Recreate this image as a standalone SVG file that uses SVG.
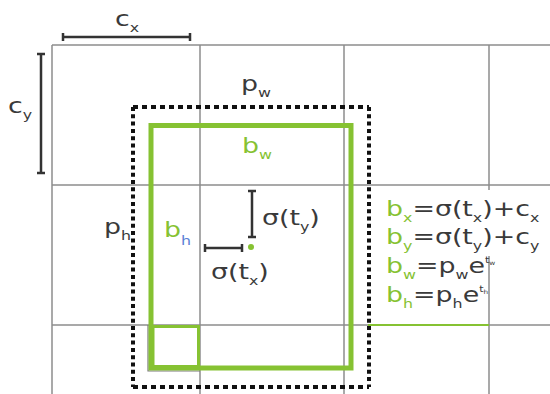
<svg xmlns="http://www.w3.org/2000/svg" width="550" height="394" viewBox="0 0 550 394">
  <style>
    .grid { stroke: #8c8c8c; stroke-width: 1.5; fill: none; }
    .dim { stroke: #333; stroke-width: 2.5; fill: none; }
    .prior { stroke: #111; stroke-width: 4; fill: none; }
    .ph { stroke-dasharray: 5 4; }
    .pv { stroke-dasharray: 4 3.3; }
    .pred { stroke: #86c232; stroke-width: 5; fill: none; }
    text { font-family: "DejaVu Sans", "Liberation Sans", sans-serif; font-size: 22px; fill: #3a3a3a; }
    .g { fill: #86c232; }
    .b { fill: #5a7fd6; }
    .sub { font-size: 13px; }
    .sup { font-size: 9px; }
    .sup2 { font-size: 6px; }
  </style>

  <rect width="550" height="394" fill="#fff"/>

  <!-- cell grid -->
  <g id="grid" class="grid">
    <line x1="52" y1="45" x2="550" y2="45"/>
    <line x1="52" y1="185" x2="550" y2="185"/>
    <line x1="52" y1="325" x2="550" y2="325"/>
    <line x1="52" y1="45" x2="52" y2="394"/>
    <line x1="200" y1="45" x2="200" y2="394"/>
    <line x1="344" y1="45" x2="344" y2="394"/>
    <line x1="489" y1="45" x2="489" y2="394"/>
  </g>

  <!-- cell size dimensions -->
  <g id="cell-width">
    <path class="dim" d="M63 37H190M63 33V41M190 33V41"/>
    <text transform="translate(115 26) scale(1.22 1)">c<tspan class="sub" dy="6">x</tspan></text>
  </g>
  <g id="cell-height">
    <path class="dim" d="M41 54V173M37 54H45M37 173H45"/>
    <text transform="translate(8 113) scale(1.22 1)">c<tspan class="sub" dy="6">y</tspan></text>
  </g>

  <!-- prior (anchor) box -->
  <g id="prior-box">
    <line class="prior ph" x1="133" y1="107" x2="369" y2="107"/>
    <line class="prior ph" x1="133" y1="387" x2="369" y2="387"/>
    <line class="prior pv" x1="133" y1="107" x2="133" y2="387"/>
    <line class="prior pv" x1="369" y1="107" x2="369" y2="387"/>
    <text transform="translate(241 91) scale(1.22 1)">p<tspan class="sub" dy="6">w</tspan></text>
    <text transform="translate(104 234) scale(1.22 1)">p<tspan class="sub" dy="6">h</tspan></text>
  </g>

  <!-- predicted box -->
  <g id="pred-box">
    <path d="M148 325V371H200" stroke="#7a7a7a" stroke-width="1.2" fill="none"/>
    <rect class="pred" x="151" y="125.5" width="200" height="242.5"/>
    <rect x="153" y="326.5" width="45.5" height="40" fill="none" stroke="#86c232" stroke-width="3"/>
    <text transform="translate(242 153) scale(1.22 1)"><tspan class="g">b</tspan><tspan class="sub g" dy="6">w</tspan></text>
    <text transform="translate(164 237) scale(1.22 1)"><tspan class="g">b</tspan><tspan class="sub b" dy="8">h</tspan></text>
  </g>

  <!-- centre offsets -->
  <g id="offset">
    <path class="dim" d="M252 191V237M248 191H256M248 237H256" stroke-width="2"/>
    <path class="dim" d="M205 248H242M205 244V252M242 244V252" stroke-width="2"/>
    <circle cx="251" cy="247" r="3" fill="#86c232"/>
    <text transform="translate(262 225) scale(1.22 1)">σ(t<tspan class="sub" dy="6">y</tspan><tspan dy="-6">)</tspan></text>
    <text transform="translate(211 279) scale(1.22 1)">σ(t<tspan class="sub" dy="6">x</tspan><tspan dy="-6">)</tspan></text>
  </g>

  <!-- box equations -->
  <g id="equations">
    <rect x="378" y="190" width="168" height="66" fill="#fff"/>
    <line x1="368" y1="325" x2="489" y2="325" stroke="#86c232" stroke-width="2"/>
    <text transform="translate(386 216) scale(1.22 1)"><tspan class="g">b</tspan><tspan class="sub g" dy="6">x</tspan><tspan dy="-6">=σ(t</tspan><tspan class="sub" dy="6">x</tspan><tspan dy="-6">)+c</tspan><tspan class="sub" dy="6">x</tspan></text>
    <text transform="translate(386 244) scale(1.22 1)"><tspan class="g">b</tspan><tspan class="sub g" dy="6">y</tspan><tspan dy="-6">=σ(t</tspan><tspan class="sub" dy="6">y</tspan><tspan dy="-6">)+c</tspan><tspan class="sub" dy="6">y</tspan></text>
    <text transform="translate(386 273) scale(1.22 1)"><tspan class="g">b</tspan><tspan class="sub g" dy="6">w</tspan><tspan dy="-6">=p</tspan><tspan class="sub" dy="6">w</tspan><tspan dy="-6">e</tspan><tspan class="sup" dy="-10">t</tspan><tspan class="sup2" dy="2">w</tspan></text>
    <text transform="translate(386 302) scale(1.22 1)"><tspan class="g">b</tspan><tspan class="sub g" dy="6">h</tspan><tspan dy="-6">=p</tspan><tspan class="sub" dy="6">h</tspan><tspan dy="-6">e</tspan><tspan class="sup" dy="-10">t</tspan><tspan class="sup2" dy="2">h</tspan></text>
  </g>
</svg>
